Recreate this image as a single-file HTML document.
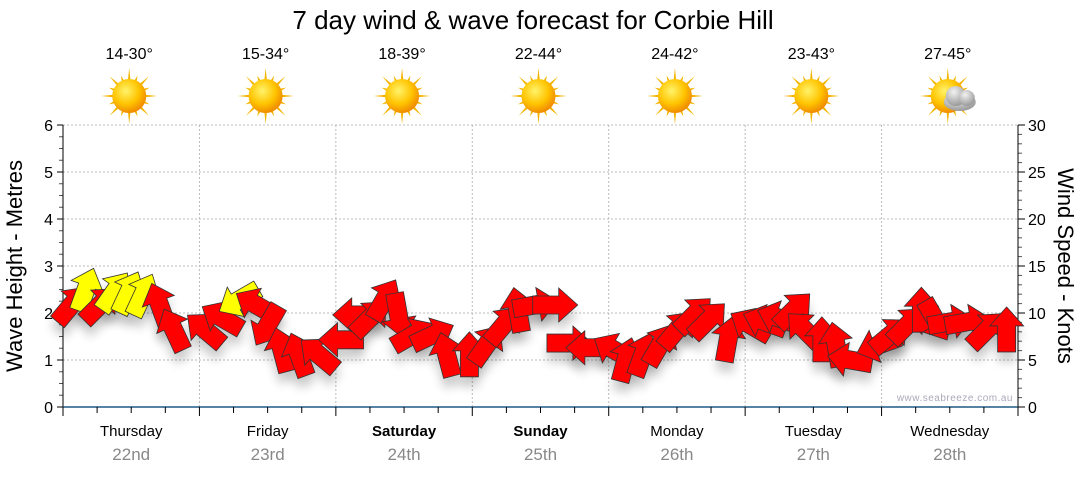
<!DOCTYPE html>
<html><head><meta charset="utf-8"><style>
body{margin:0;background:#fff;}
svg text{font-family:"Liberation Sans",sans-serif;}
</style></head><body>
<svg id="chart" width="1080" height="475" xmlns="http://www.w3.org/2000/svg">
<defs>
<filter id="sh" x="-50%" y="-50%" width="200%" height="250%"><feGaussianBlur stdDeviation="5"/></filter>
<radialGradient id="sunG" cx="40%" cy="35%" r="65%"><stop offset="0" stop-color="#fff36a"/><stop offset="0.6" stop-color="#ffc400"/><stop offset="1" stop-color="#f08c00"/></radialGradient>
<radialGradient id="cloudG" cx="40%" cy="30%" r="70%"><stop offset="0" stop-color="#f2f2f2"/><stop offset="1" stop-color="#9a9a9a"/></radialGradient>
</defs>
<text x="533" y="29" font-size="26" text-anchor="middle" fill="#000">7 day wind &amp; wave forecast for Corbie Hill</text>
<g id="grid"></g><g id="axes"></g><g id="days"></g><g id="shadows"></g><g id="arrows"></g>
<text transform="translate(22,266) rotate(-90)" font-size="22" text-anchor="middle">Wave Height - Metres</text>
<text transform="translate(1058,266) rotate(90)" font-size="22" text-anchor="middle">Wind Speed - Knots</text>
<text x="1013" y="401" font-size="10" text-anchor="end" fill="#aab" letter-spacing="0.5">www.seabreeze.com.au</text>
</svg>
<script>
const dayNames=["Thursday","Friday","Saturday","Sunday","Monday","Tuesday","Wednesday"];
const dayDates=["22nd","23rd","24th","25th","26th","27th","28th"];
const boldDays=[false,false,true,true,false,false,false];
const temps=["14-30°","15-34°","18-39°","22-44°","24-42°","23-43°","27-45°"];
const cloudy=[false,false,false,false,false,false,true];
const waveTicks=[0,1,2,3,4,5,6];
const windTicks=[0,5,10,15,20,25,30];
// 3-hourly slots: time in hours from start, wave height (m), wind direction (deg arrow points to), wind speed (kn)
const hours=[1.5,4,6.5,9,11.5,14,17,19.5, 25,28,31,34,36,38.5,41.5,45, 49,51.5,54,56.5,59,61.5,65,67.5, 71.5,74.5,77.5,80,83,86.5,89,92.5, 97,99,102,105,108,111,113.5,117, 121,123.5,126,128.5,130.5,133.5,136,138.5, 143.5,145.5,148.5,151,153.5,156,159,162.5, 166];
const waves=[2.17,2.49,2.17,2.45,2.43,2.38,2.17,1.64, 1.64,1.89,2.28,2.17,1.74,1.21,1.11,1.11, 1.43,1.96,1.89,2.28,1.96,1.53,1.53,1.11, 1.11,1.32,1.74,2.06,2.17,2.17,1.36,1.26, 1.21,1.0,1.11,1.32,1.64,1.96,1.85,1.43, 1.74,1.81,1.89,2.06,1.64,1.43,1.32,1.0, 1.32,1.53,1.74,2.06,1.85,1.81,1.81,1.64, 1.64];
const dirs=[40,20,45,35,25,25,-20,-25, -50,-60,240,-60,210,-15,-20,-50, 270,270,45,30,170,60,65,-15, 0,35,40,-10,80,90,90,270, 300,15,20,30,40,45,45,10, 300,290,290,45,315,0,350,280, 250,50,45,0,150,80,80,45, 0];
const speeds=[12,8,12,8,8,8,12,12, 12,12,8,12,12,12,12,12, 12,12,12,12,12,12,12,12, 12,12,12,12,12,12,12,12, 12,12,12,12,12,12,12,12, 12,12,12,12,12,12,12,12, 12,12,12,12,12,12,12,12, 12];
const X0=63,X1=1018,Y0=407,Y1=125,DAY=(X1-X0)/7;
const xs=h=>X0+h/24*DAY, yw=v=>Y0-v/6*(Y0-Y1), yk=v=>Y0-v/30*(Y0-Y1);
const NS="http://www.w3.org/2000/svg";
function mk(t,a,p){const e=document.createElementNS(NS,t);for(const k in a)e.setAttribute(k,a[k]);p.appendChild(e);return e;}
const grid=document.getElementById('grid'),axes=document.getElementById('axes'),days=document.getElementById('days');
waveTicks.forEach(v=>{if(v>0){const l=mk('line',{x1:X0,x2:X1,y1:yw(v),y2:yw(v),stroke:'#bbb','stroke-dasharray':'2,2'},grid);

}
const t=mk('text',{x:X0-10,y:yw(v)+6,'font-size':16,'text-anchor':'end'},axes);t.textContent=v;


mk('line',{x1:X0-6,x2:X0,y1:yw(v),y2:yw(v),stroke:'#000'},axes);});
for(let q=1;q<24;q++){if(q%4)mk('line',{x1:X0-4,x2:X0,y1:yw(q/4),y2:yw(q/4),stroke:'#555'},axes);}
windTicks.forEach(v=>{const t=mk('text',{x:X1+10,y:yk(v)+6,'font-size':16},axes);t.textContent=v;


mk('line',{x1:X1,x2:X1+7,y1:yk(v),y2:yk(v),stroke:'#000'},axes);});
for(let k=1;k<30;k++){if(k%5)mk('line',{x1:X1,x2:X1+4,y1:yk(k),y2:yk(k),stroke:'#555'},axes);}
mk('line',{x1:X0,x2:X0,y1:Y1,y2:Y0,stroke:'#000'},axes);
mk('line',{x1:X1,x2:X1,y1:Y1,y2:Y0,stroke:'#000'},axes);
mk('line',{x1:X0,x2:X1,y1:Y0,y2:Y0,stroke:'#1f5a85','stroke-width':1.5},axes);
for(let q=0;q<=28;q++){const x=X0+q*DAY/4;mk('line',{x1:x,x2:x,y1:Y0,y2:Y0+(q%4?6:9),stroke:'#000'},axes);}
dayNames.forEach((d,i)=>{const cx=X0+(i+0.5)*DAY;
if(i>0){const g=mk('line',{x1:X0+i*DAY,x2:X0+i*DAY,y1:Y1,y2:Y0,stroke:'#bbb','stroke-dasharray':'2,2'},grid);

}
const t=mk('text',{x:cx,y:436,'font-size':15,'text-anchor':'middle','font-weight':boldDays[i]?'bold':'normal'},days);t.textContent=d;


const t2=mk('text',{x:cx,y:460,'font-size':17,'text-anchor':'middle',fill:'#888'},days);t2.textContent=dayDates[i];


const t3=mk('text',{x:cx-2,y:59,'font-size':16,'text-anchor':'middle'},days);t3.textContent=temps[i];


const g=mk('g',{transform:`translate(${cx-2},96)`},days);


for(let r=0;r<16;r++){const a=r*Math.PI/8,L=r%2?22:28,w=0.08;
mk('polygon',{points:`${Math.cos(a-w)*16},${Math.sin(a-w)*16} ${Math.cos(a)*L},${Math.sin(a)*L} ${Math.cos(a+w)*16},${Math.sin(a+w)*16}`,fill:'#f3b400'},g);}
mk('circle',{r:17,fill:'url(#sunG)'},g);
if(cloudy[i]){mk('ellipse',{cx:12,cy:6,rx:16,ry:9,fill:'url(#cloudG)'},g);mk('circle',{cx:8,cy:0,r:10,fill:'url(#cloudG)'},g);mk('circle',{cx:19,cy:2,r:8,fill:'url(#cloudG)'},g);}
});
const arrows=document.getElementById('arrows'),shadows=document.getElementById('shadows');
const shape="-22,-9 4,-9 4,-17 23,0 4,17 4,9 -22,9";
hours.forEach((h,i)=>{const x=xs(h),y=yw(waves[i]),rot=dirs[i]-90;
mk('polygon',{points:shape,transform:`translate(${x},${y+10}) rotate(${rot})`,fill:'#000',opacity:0.2,filter:'url(#sh)'},shadows);
const p=mk('polygon',{points:shape,transform:`translate(${x},${y}) rotate(${rot})`,fill:speeds[i]<10?'#ffff00':'#ff0000',stroke:'#333','stroke-width':0.8},arrows);


});
</script>
</body></html>
